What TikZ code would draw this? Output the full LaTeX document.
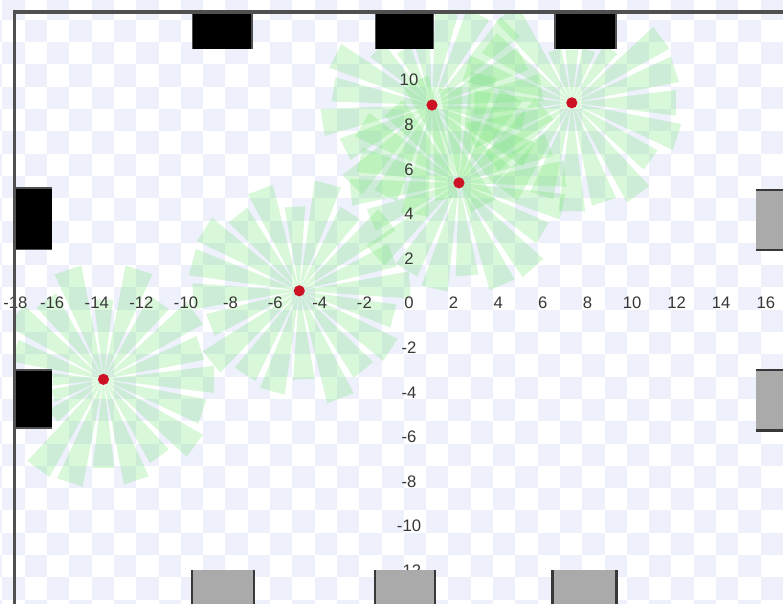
\documentclass[tikz,border=0pt]{standalone}
\usepackage{fontspec}
\setsansfont{Liberation Sans}
\definecolor{floorblue}{RGB}{238,240,252}
\definecolor{wallgray}{RGB}{80,80,80}
\definecolor{boxgray}{RGB}{170,170,170}
\definecolor{beamgreen}{RGB}{110,228,110}
\definecolor{robotred}{RGB}{205,18,38}
\definecolor{labgray}{RGB}{55,55,55}
\begin{document}
\begin{tikzpicture}[x=0.4cm, y=0.4cm,
  wall/.style={line width=1.8pt, draw=wallgray},
  blackbox/.style={fill=black},
  graybox/.style={fill=boxgray},
  boxedge/.style={line width=1.4pt, draw=wallgray!70!black},
  beam/.style={fill=beamgreen, fill opacity=0.26},
  robot/.style={circle, fill=robotred, inner sep=0pt, minimum size=0.2cm},
  axlab/.style={font=\sffamily\fontsize{8.5}{10}\selectfont, text=labgray, inner sep=0pt}]

\useasboundingbox (-18.34,-13.45) rectangle (16.77,13.59);
\begin{scope}
  \clip (-18.34,-13.45) rectangle (16.77,13.59);

  % Floor (checker)
  \fill[white] (-18.34,-13.45) rectangle (16.77,13.59);
  \foreach \i in {-19,...,17} {
    \foreach \j in {-15,...,13} {
      \pgfmathtruncatemacro\chk{mod(\i+\j+100,2)}
      \ifnum\chk=0
        \fill[floorblue] (\i-0.23,\j+0.7) rectangle ++(1,1);
      \fi
    }
  }

  % Robot positions
  \coordinate (r1) at (1.03,8.88);
  \coordinate (r2) at (2.24,5.39);
  \coordinate (r3) at (7.3,8.98);
  \coordinate (r4) at (-4.92,0.55);
  \coordinate (r5) at (-13.7,-3.42);

  % Sensor beams
  \begin{scope}
    \clip (-17.7,-14) rectangle (17,13.05);
    \foreach \a/\r in {9/5.0, 27/4.6, 45/5.0, 63/4.6, 81/4.2, 99/2.6, 117/2.8, 135/3.5, 153/4.9, 171/4.5,
                       189/5.0, 207/4.4, 225/5.1, 243/4.6, 261/5.0, 279/4.3, 297/5.1, 315/4.5, 333/4.9, 351/4.2} {
      \fill[beam] (r1) -- +(\a-7:\r) -- +(\a+7:\r) -- cycle;
    }
    \foreach \a/\r in {5/4.8, 23/4.4, 41/5.1, 59/4.6, 77/5.0, 95/4.3, 113/5.0, 131/4.5, 149/5.1, 167/4.6,
                       185/4.9, 203/4.3, 221/5.0, 239/4.6, 257/4.9, 275/4.2, 293/5.0, 311/5.1, 329/4.4, 347/4.8} {
      \fill[beam] (r2) -- +(\a-7:\r) -- +(\a+7:\r) -- cycle;
    }
    \foreach \a/\r in {0/4.7, 18/4.9, 36/5.0, 54/3.0, 72/2.5, 90/2.4, 108/2.5, 126/5.0, 144/4.6, 162/5.0,
                       180/4.4, 198/4.8, 216/4.5, 234/5.0, 252/4.4, 270/4.9, 288/4.7, 306/5.1, 324/4.4, 342/5.0} {
      \fill[beam] (r3) -- +(\a-7:\r) -- +(\a+7:\r) -- cycle;
    }
    \foreach \a/\r in {3/5.0, 21/4.5, 39/5.1, 57/4.2, 75/5.0, 93/3.8, 111/4.9, 129/4.4, 147/5.1, 165/5.0,
                       183/4.8, 201/4.3, 219/5.1, 237/4.5, 255/4.7, 273/4.0, 291/5.2, 309/4.6, 327/4.9, 345/4.4} {
      \fill[beam] (r4) -- +(\a-7:\r) -- +(\a+7:\r) -- cycle;
    }
    \foreach \a/\r in {0/5.0, 18/4.6, 36/5.1, 54/4.3, 72/5.2, 90/3.6, 108/5.2, 126/4.4, 144/4.9, 162/4.2,
                       180/2.3, 198/2.4, 216/2.8, 234/5.0, 252/4.9, 270/4.0, 288/4.8, 306/4.3, 324/5.1, 342/4.7} {
      \fill[beam] (r5) -- +(\a-7:\r) -- +(\a+7:\r) -- cycle;
    }
  \end{scope}

  % Axis numbers
  \node[axlab] (xlab-18) at (-17.65,0) {-18};
  \foreach \x in {-16,-14,...,16} {
    \node[axlab] (xlab\x) at (\x,0) {\x};
  }
  \foreach \y in {10,8,6,4,2,-2,-4,-6,-8,-10,-12} {
    \node[axlab] (ylab\y) at (0,\y) {\y};
  }

  % Robots
  \foreach \k in {1,...,5} {
    \node[robot] (dot\k) at (r\k) {};
  }

  % Top blocks
  \foreach \xa/\xb in {-9.69/-7.04, -1.52/1.08, 6.55/9.28} {
    \fill[blackbox] (\xa,11.39) rectangle (\xb,13.05);
    \draw[wallgray, line width=0.6pt] (\xa,11.39) -- (\xa,13.05) (\xb,11.39) -- (\xb,13.05);
  }
  % Left blocks
  \foreach \ya/\yb in {2.42/5.16, -5.6/-3.0} {
    \fill[blackbox] (-17.7,\ya) rectangle (-16.0,\yb);
    \draw[wallgray, line width=0.6pt] (-17.7,\ya) -- (-16.0,\ya) (-17.7,\yb) -- (-16.0,\yb);
  }
  % Right blocks
  \foreach \ya/\yb in {2.38/5.07, -5.7/-3.0} {
    \fill[graybox] (15.56,\ya) rectangle (17,\yb);
    \draw[boxedge] (15.56,\ya) -- (17,\ya) (15.56,\yb) -- (17,\yb);
  }
  % Bottom blocks
  \foreach \xa/\xb in {-9.73/-6.95, -1.52/1.17, 6.44/9.31} {
    \fill[graybox] (\xa,-11.97) rectangle (\xb,-14);
    \draw[boxedge] (\xa,-11.97) -- (\xa,-14) (\xb,-11.97) -- (\xb,-14);
  }

  % Walls
  \draw[wall] (-17.7,-14) -- (-17.7,13.05) -- (17,13.05);
\end{scope}
\end{tikzpicture}
\end{document}
